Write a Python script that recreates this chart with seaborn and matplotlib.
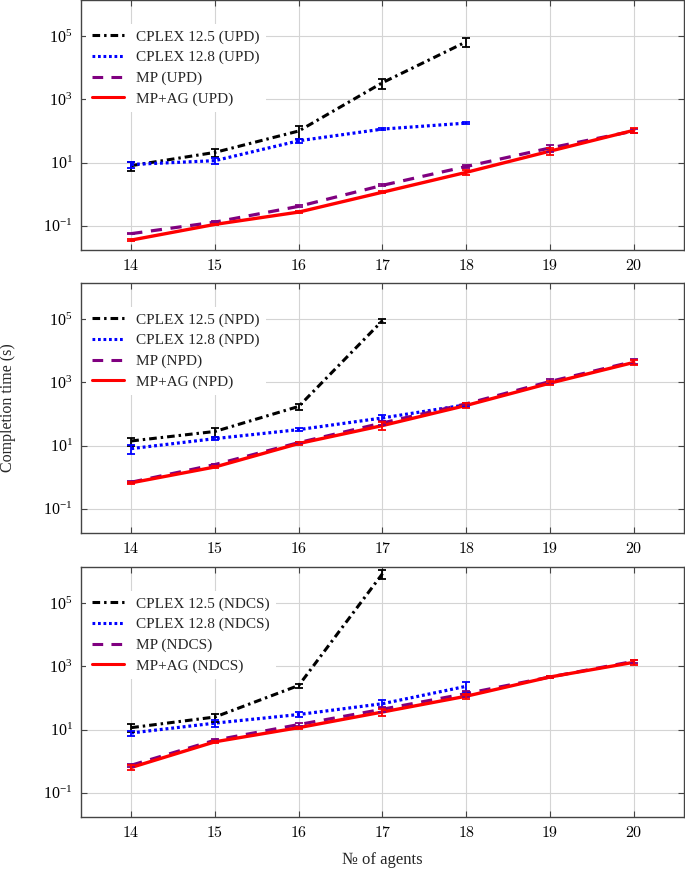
import numpy as np
import pandas as pd
import matplotlib
matplotlib.use("Agg")
import matplotlib.pyplot as plt
import matplotlib.ticker as mticker
import seaborn as sns

sns.set_style("whitegrid")
plt.rcParams['font.family'] = ['Liberation Serif', 'DejaVu Serif']
plt.rcParams['mathtext.fontset'] = 'cm'

# x values
agents = [14, 15, 16, 17, 18, 19, 20]
xtick_labels = ["14", "15", "16", "17", "18", "19", "20"]

# UPD panel
upd_c125 = [8, 21, 100, 3400, 67000]
upd_c125_err = [2.5, 6, 45, 1200, 22000]
upd_c128 = [8.7, 11.5, 49, 115, 178]
upd_c128_err = [2, 2.5, 8, 8, 15]
upd_mp = [0.056, 0.13, 0.41, 1.9, 7.5, 29, 100]
upd_mp_err = [0.003, 0.008, 0.03, 0.15, 1, 8, 12]
upd_ag = [0.035, 0.11, 0.27, 1.15, 4.9, 23, 105]
upd_ag_err = [0.002, 0.006, 0.02, 0.1, 1, 5, 18]

# NPD panel
npd_c125 = [14, 28, 174, 91000]
npd_c125_err = [4, 9, 40, 13000]
npd_c128 = [8, 16.6, 32, 75, 196]
npd_c128_err = [2.7, 2, 3, 15, 25]
npd_mp = [0.69, 2.5, 12.4, 52, 210, 1070, 4600]
npd_mp_err = [0.04, 0.2, 1, 6, 20, 200, 800]
npd_ag = [0.66, 2.1, 11.6, 43, 187, 950, 4300]
npd_ag_err = [0.04, 0.15, 1, 12, 35, 150, 700]

# NDCS panel
ndcs_c125 = [11.5, 25, 250, 870000]
ndcs_c125_err = [3, 7, 35, 300000]
ndcs_c128 = [7.8, 16, 30, 66, 235]
ndcs_c128_err = [1.4, 3.5, 5, 18, 75]
ndcs_mp = [0.74, 4.6, 14.4, 44, 138, 463, 1450]
ndcs_mp_err = [0.08, 0.4, 1.5, 9, 30, 40, 200]
ndcs_ag = [0.63, 4.1, 11.5, 36, 114, 463, 1350]
ndcs_ag_err = [0.1, 0.4, 1, 9, 22, 40, 200]

panels = [
    ("UPD", [upd_c125, upd_c128, upd_mp, upd_ag],
     [upd_c125_err, upd_c128_err, upd_mp_err, upd_ag_err]),
    ("NPD", [npd_c125, npd_c128, npd_mp, npd_ag],
     [npd_c125_err, npd_c128_err, npd_mp_err, npd_ag_err]),
    ("NDCS", [ndcs_c125, ndcs_c128, ndcs_mp, ndcs_ag],
     [ndcs_c125_err, ndcs_c128_err, ndcs_mp_err, ndcs_ag_err]),
]
methods = ["CPLEX 12.5", "CPLEX 12.8", "MP", "MP+AG"]
colors = ["black", "#0000ff", "#800080", "#ff0000"]
dashes = [(2.5, 1.3, 0.8, 1.3), (0.9, 0.9), (3.5, 2.7), ""]
widths = [2.2, 2.3, 2.3, 2.4]

fig = plt.figure(figsize=(6.85, 8.69), dpi=100)
bottoms = [1 - 250 / 869, 1 - 533 / 869, 1 - 817 / 869]

for (name, series, errs), bot in zip(panels, bottoms):
    ax = fig.add_axes([81 / 685, bot, 603 / 685, 250 / 869])
    rows = []
    for m, vals in zip(methods, series):
        for x, v in zip(agents, vals):
            rows.append({"agents": x, "time": v, "method": f"{m} ({name})"})
    df = pd.DataFrame(rows)
    labels = [f"{m} ({name})" for m in methods]
    sns.lineplot(data=df, x="agents", y="time", hue="method", style="method",
                 hue_order=labels, style_order=labels,
                 palette=dict(zip(labels, colors)),
                 dashes=dict(zip(labels, dashes)), linewidth=2.2, ax=ax)
    for line, w in zip(ax.get_lines(), widths):
        line.set_linewidth(w)
    for vals, e, c in zip(series, errs, colors):
        ax.errorbar(agents[:len(vals)], vals, yerr=e, fmt="none",
                    ecolor=c, elinewidth=1.3, capsize=3, capthick=1.3)
    ax.set_yscale("log")
    ax.set_ylim(10 ** -1.77, 10 ** 6.15)
    ax.set_xlim(13.4, 20.6)
    ax.set_yticks([1e-1, 1e1, 1e3, 1e5])
    ax.yaxis.set_major_formatter(mticker.LogFormatterMathtext())
    ax.yaxis.set_minor_locator(mticker.NullLocator())
    ax.set_xticks(agents)
    ax.set_xticklabels([f"${t}$" for t in xtick_labels])
    ax.tick_params(direction="in", length=4, width=0.8, colors="#444444",
                   labelcolor="black", labelsize=11.5, top=True, right=True,
                   left=True, bottom=True, pad=6)
    ax.grid(True, color="#d4d4d4", linewidth=0.8)
    for s in ax.spines.values():
        s.set_color("#444444")
        s.set_linewidth(1.0)
    ax.set_xlabel("")
    ax.set_ylabel("")
    h, l = ax.get_legend_handles_labels()
    ax.legend(h, l, loc="upper left", bbox_to_anchor=(0.008, 0.905),
              fontsize=11, frameon=True, facecolor="white", edgecolor="none",
              framealpha=1, fancybox=False, borderaxespad=0,
              handlelength=2.1, labelspacing=0.45, borderpad=0.4)

fig.text(8 / 685, 1 - 408 / 869, "Completion time (s)", rotation=90,
         ha="center", va="center", fontsize=11.5)
fig.text(382.5 / 685, 1 - 860 / 869, "\u2116 of agents", ha="center",
         va="center", fontsize=12)

fig.savefig("out.png", dpi=100)
